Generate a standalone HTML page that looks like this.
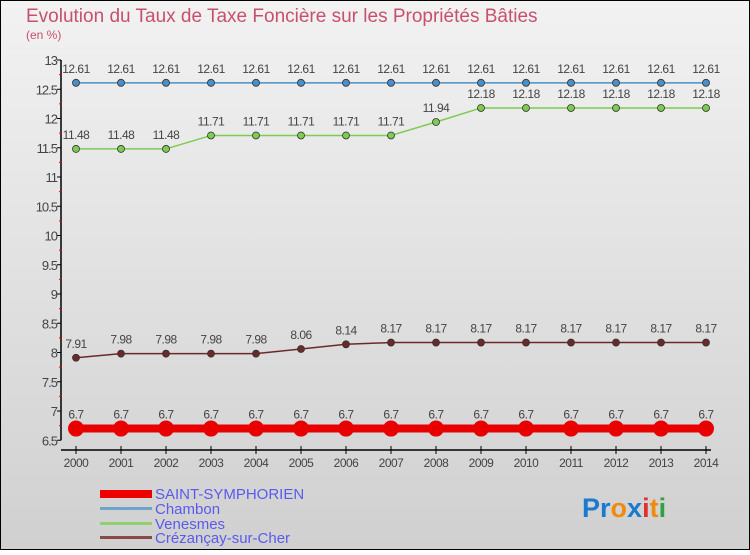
<!DOCTYPE html>
<html><head><meta charset="utf-8"><style>
body{margin:0;width:750px;height:550px;overflow:hidden;font-family:"Liberation Sans",sans-serif}
</style></head><body>
<svg width="750" height="550" xmlns="http://www.w3.org/2000/svg">
<defs><linearGradient id="bg" x1="0" y1="0" x2="0" y2="1"><stop offset="0" stop-color="#f2f2f2"/><stop offset="1" stop-color="#d0d0d0"/></linearGradient></defs>
<rect x="0.5" y="0.5" width="749" height="549" fill="url(#bg)" stroke="#000"/>
<text x="26" y="22" font-size="19" fill="#c8506e">Evolution du Taux de Taxe Foncière sur les Propriétés Bâties</text>
<text x="26" y="39" font-size="12" fill="#c8506e">(en %)</text>
<g id="axes"></g>
<g id="series"></g>
<g id="legend" font-size="15" fill="#5a5aee">
<rect x="100" y="490" width="52" height="8" fill="#e00"/>
<text x="155" y="499">SAINT-SYMPHORIEN</text>
<rect x="100" y="507" width="52" height="3" fill="#6fa3cc"/>
<text x="155" y="514">Chambon</text>
<rect x="100" y="522" width="52" height="3" fill="#8fd070"/>
<text x="155" y="529">Venesmes</text>
<rect x="100" y="536" width="52" height="3" fill="#8a4a4a"/>
<text x="155" y="543">Crézançay-sur-Cher</text>
</g>
<text x="582" y="517" font-size="27" font-weight="bold"><tspan fill="#1a7ad0">Pr</tspan><tspan fill="#f08a10">o</tspan><tspan fill="#1a7ad0">x</tspan><tspan fill="#e03030">i</tspan><tspan fill="#f08a10">t</tspan><tspan fill="#30a040">i</tspan></text>
</svg>
<script>
const years=[2000,2001,2002,2003,2004,2005,2006,2007,2008,2009,2010,2011,2012,2013,2014];
const yTicks=[6.5,7,7.5,8,8.5,9,9.5,10,10.5,11,11.5,12,12.5,13];
const saintSymphorien=[6.7,6.7,6.7,6.7,6.7,6.7,6.7,6.7,6.7,6.7,6.7,6.7,6.7,6.7,6.7];
const chambon=[12.61,12.61,12.61,12.61,12.61,12.61,12.61,12.61,12.61,12.61,12.61,12.61,12.61,12.61,12.61];
const venesmes=[11.48,11.48,11.48,11.71,11.71,11.71,11.71,11.71,11.94,12.18,12.18,12.18,12.18,12.18,12.18];
const crezancay=[7.91,7.98,7.98,7.98,7.98,8.06,8.14,8.17,8.17,8.17,8.17,8.17,8.17,8.17,8.17];
const NS="http://www.w3.org/2000/svg";
const xS=i=>76+i*45;
const yS=v=>60+(13-v)*58.5;
function mk(t,a,p){const e=document.createElementNS(NS,t);for(const k in a)e.setAttribute(k,a[k]);p.appendChild(e);return e;}
const ax=document.getElementById('axes');
let l=mk('line',{x1:61,y1:yS(13),x2:61,y2:yS(6.5),stroke:'#000','stroke-width':1.5},ax);


l=mk('line',{x1:61,y1:450,x2:xS(14)+5,y2:450,stroke:'#000','stroke-width':1.5},ax);


yTicks.forEach((v,i)=>{
  mk('line',{x1:57,y1:yS(v),x2:61,y2:yS(v),stroke:'#000'},ax);
  if(i<yTicks.length-1)mk('line',{x1:59,y1:yS(v+0.25),x2:62,y2:yS(v+0.25),stroke:'#e00'},ax);
  const t=mk('text',{x:57,y:yS(v)+5,'text-anchor':'end','font-size':13,fill:'#444','letter-spacing':'-1'},ax);
  t.textContent=String(v);
  
  
});
years.forEach((y,i)=>{
  mk('line',{x1:xS(i),y1:446,x2:xS(i),y2:454,stroke:'#000'},ax);
  const t=mk('text',{x:xS(i),y:467,'text-anchor':'middle','font-size':12,fill:'#444','letter-spacing':'-0.5'},ax);
  t.textContent=y;
  
  
});
const sg=document.getElementById('series');
function draw(vals,color,w,r,name){
  const g=mk('g',{},sg);
  
  
  const p=mk('polyline',{points:vals.map((v,i)=>xS(i)+','+yS(v)).join(' '),fill:'none',stroke:color,'stroke-width':w},g);
  
  
  vals.forEach((v,i)=>{
    const c=mk('circle',{cx:xS(i),cy:yS(v),r:r,fill:color,stroke:'#333','stroke-width':r>5?0:0.8},g);
    
    
    const t=mk('text',{x:xS(i),y:yS(v)-10,'text-anchor':'middle','font-size':12,fill:'#444','letter-spacing':'-0.5'},g);
    t.textContent=String(v);
    
    
  });
}
draw(chambon,'#4a8fc8',1.5,3.5,'chambon');
draw(venesmes,'#7ecb50',1.5,3.5,'venesmes');
draw(crezancay,'#6b2a2a',1.5,3.5,'crezancay');
draw(saintSymphorien,'#e80000',8,8,'saint-symphorien');
</script>
</body></html>
